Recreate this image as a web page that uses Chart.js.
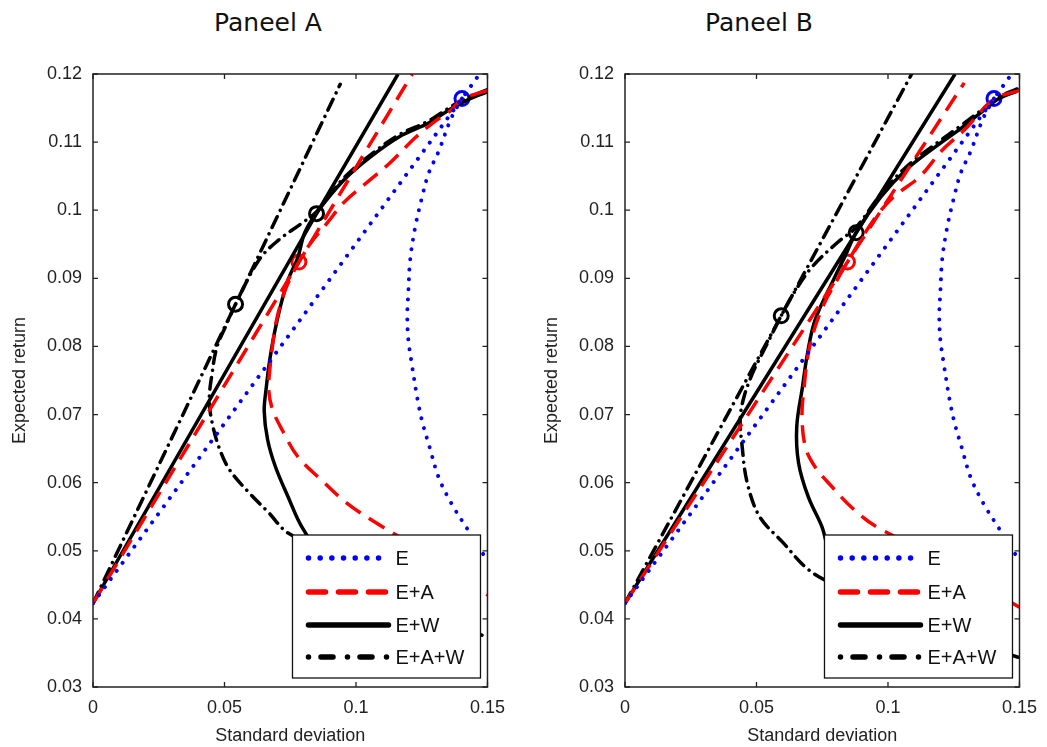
<!DOCTYPE html>
<html>
<head>
<meta charset="utf-8">
<script src="https://cdn.jsdelivr.net/npm/chart.js@4.4.1/dist/chart.umd.min.js"></script>
<style>
  html, body { margin: 0; padding: 0; background: #fff; overflow: hidden; }
  #wrap { position: relative; width: 1047px; height: 747px; }
  canvas { position: absolute; top: 0; }
  #chartA { left: 0; }
  #chartB { left: 532px; }
  .panelTitle {
    position: absolute; top: 7px; width: 240px; text-align: center;
    font-family: "DejaVu Sans", sans-serif; font-size: 25px; line-height: 32px; color: #111;
  }
</style>
</head>
<body>
<div id="wrap">
  <div class="panelTitle" style="left:148px">Paneel A</div>
  <div class="panelTitle" style="left:639px">Paneel B</div>
  <canvas id="chartA" width="515" height="747"></canvas>
  <canvas id="chartB" width="515" height="747"></canvas>
</div>
<script>
// Tick labels and series names
const xTickLabels = ["0", "0.05", "0.1", "0.15"];
const yTickLabels = ["0.03", "0.04", "0.05", "0.06", "0.07", "0.08", "0.09", "0.1", "0.11", "0.12"];
const seriesNames = ["E", "E+A", "E+W", "E+A+W"];

// [standard deviation, expected return] pairs
// E frontier and its tangent line look the same in both panels
const frontE = [[0.1403,0.1164],[0.1362,0.1135],[0.1314,0.1086],[0.1277,0.1055],[0.1251,0.1019],[0.1225,0.0975],
  [0.1206,0.0927],[0.1199,0.0879],[0.1195,0.0846],[0.1199,0.0810],[0.1212,0.0775],[0.1235,0.0720],[0.1255,0.0685],
  [0.1280,0.0652],[0.1314,0.0608],[0.1362,0.0570],[0.1425,0.0531],[0.1473,0.0501],[0.1500,0.0487]];
const tangentE = [[0,0.0423],[0.1403,0.1164],[0.1470,0.1200]];

// Panel A
const frontA_EA = [[0.1500,0.1176],[0.1403,0.1163],[0.1362,0.1147],[0.1299,0.1130],[0.1224,0.1106],[0.1128,0.1069],
  [0.1039,0.1040],[0.0953,0.1011],[0.0890,0.0981],[0.0830,0.0953],[0.0783,0.0924],[0.0731,0.0883],[0.0698,0.0839],
  [0.0683,0.0802],[0.0672,0.0765],[0.0668,0.0736],[0.0683,0.0707],[0.0720,0.0677],[0.0779,0.0638],[0.0868,0.0604],
  [0.0965,0.0570],[0.1076,0.0541],[0.1202,0.0512],[0.1325,0.0484],[0.1417,0.0457],[0.1500,0.0435]];
const tangentA_EA = [[0,0.0423],[0.0783,0.0924],[0.1214,0.1200]];
const frontA_EW = [[0.1500,0.1174],[0.1425,0.1162],[0.1373,0.1152],[0.1276,0.1128],[0.1165,0.1108],[0.1054,0.1078],
  [0.0953,0.1044],[0.0850,0.0996],[0.0805,0.0967],[0.0779,0.0931],[0.0742,0.0898],[0.0712,0.0858],[0.0690,0.0820],
  [0.0672,0.0780],[0.0659,0.0740],[0.0651,0.0705],[0.0664,0.0663],[0.0694,0.0623],[0.0742,0.0579],[0.0794,0.0535],
  [0.0879,0.0487],[0.0991,0.0435],[0.1121,0.0384],[0.1250,0.0340]];
const tangentA_EW = [[0,0.0423],[0.0850,0.0995],[0.1160,0.1200]];
const frontA_EAW = [[0.1500,0.1177],[0.1425,0.1165],[0.1373,0.1155],[0.1276,0.1131],[0.1165,0.1111],[0.1054,0.1081],
  [0.0953,0.1047],[0.0850,0.0998],[0.0794,0.0981],[0.0705,0.0956],[0.0631,0.0927],[0.0542,0.0862],[0.0505,0.0830],
  [0.0471,0.0799],[0.0453,0.0761],[0.0442,0.0721],[0.0453,0.0688],[0.0479,0.0652],[0.0519,0.0619],[0.0594,0.0585],
  [0.0668,0.0556],[0.0742,0.0526],[0.0953,0.0487],[0.1139,0.0443],[0.1325,0.0406],[0.1500,0.0372]];
const tangentA_EAW = [[0,0.0423],[0.0542,0.0862],[0.0940,0.1185]];
const pointsA = [[0.1403,0.1164],[0.0783,0.0924],[0.0850,0.0995],[0.0542,0.0862]];

// Panel B
const frontB_EA = [[0.1500,0.1176],[0.1403,0.1163],[0.1291,0.1118],[0.1206,0.1088],[0.1120,0.1049],[0.1020,0.1019],
  [0.0946,0.0986],[0.0846,0.0924],[0.0800,0.0893],[0.0761,0.0866],[0.0723,0.0829],[0.0697,0.0790],[0.0681,0.0740],
  [0.0673,0.0699],[0.0686,0.0652],[0.0723,0.0623],[0.0787,0.0594],[0.0861,0.0564],[0.0957,0.0535],[0.1206,0.0487],
  [0.1354,0.0450],[0.1500,0.0417]];
const tangentB_EA = [[0,0.0423],[0.0846,0.0924],[0.1290,0.1187]];
const frontB_EW = [[0.1491,0.1175],[0.1417,0.1163],[0.1365,0.1147],[0.1280,0.1121],[0.1180,0.1093],[0.1068,0.1059],
  [0.0972,0.1019],[0.0879,0.0967],[0.0835,0.0931],[0.0798,0.0902],[0.0723,0.0839],[0.0694,0.0790],[0.0675,0.0741],
  [0.0653,0.0682],[0.0660,0.0629],[0.0697,0.0579],[0.0749,0.0535],[0.0779,0.0497],[0.0872,0.0442],[0.1020,0.0384],
  [0.1243,0.0325]];
const tangentB_EW = [[0,0.0423],[0.0879,0.0967],[0.1255,0.1200]];
const frontB_EAW = [[0.1491,0.1178],[0.1417,0.1166],[0.1365,0.1150],[0.1280,0.1125],[0.1180,0.1097],[0.1068,0.1063],
  [0.0972,0.1023],[0.0879,0.0975],[0.0809,0.0953],[0.0712,0.0917],[0.0638,0.0876],[0.0594,0.0845],[0.0538,0.0802],
  [0.0482,0.0758],[0.0449,0.0721],[0.0438,0.0692],[0.0445,0.0655],[0.0464,0.0601],[0.0512,0.0550],[0.0601,0.0512],
  [0.0686,0.0476],[0.0761,0.0457],[0.1020,0.0413],[0.1243,0.0376],[0.1500,0.0343]];
const tangentB_EAW = [[0,0.0423],[0.0594,0.0845],[0.1090,0.1200]];
const pointsB = [[0.1403,0.1164],[0.0846,0.0924],[0.0879,0.0967],[0.0594,0.0845]];

// Styles
const lineStyles = [
  { color: "#0000ff", width: 4, dash: [0.01, 10], cap: "round" },
  { color: "#ff0000", width: 3.5, dash: [18, 10], cap: "butt" },
  { color: "#000000", width: 3.5, dash: [], cap: "butt" },
  { color: "#000000", width: 3.5, dash: [12, 7, 0.01, 7], cap: "round" }
];
const legendStyles = [
  { width: 5.5, dash: [0.01, 11.67] },
  { width: 5.5, dash: [17, 13] },
  { width: 5.5, dash: [] },
  { width: 5.5, dash: [0.01, 12.5, 12, 14.5] }
];
const tickFont = { family: "'Liberation Sans', Arial, sans-serif", size: 18 };

// Frame, inward ticks and the boxed legend (matlab look)
const framePlugin = {
  id: "panelFrame",
  afterDatasetsDraw(chart) {
    const { ctx, chartArea: a, scales: { x, y } } = chart;
    ctx.save();

    // legend box in the lower right corner
    const bw = 188, bh = 143;
    const bx = a.right - 7 - bw, by = a.bottom - 9 - bh;
    ctx.fillStyle = "#fff";
    ctx.fillRect(bx, by, bw, bh);
    ctx.strokeStyle = "#111";
    ctx.lineWidth = 1.3;
    ctx.setLineDash([]);
    ctx.strokeRect(bx, by, bw, bh);
    const rows = [23, 57, 90, 122];
    seriesNames.forEach((name, i) => {
      const ly = by + rows[i];
      ctx.beginPath();
      ctx.strokeStyle = lineStyles[i].color;
      ctx.lineWidth = legendStyles[i].width;
      ctx.lineCap = "round";
      ctx.setLineDash(legendStyles[i].dash);
      ctx.moveTo(bx + 16, ly);
      ctx.lineTo(bx + 96, ly);
      ctx.stroke();
      ctx.setLineDash([]);
      ctx.fillStyle = "#111";
      ctx.font = "20px 'Liberation Sans', Arial, sans-serif";
      ctx.textBaseline = "middle";
      ctx.textAlign = "left";
      ctx.fillText(name, bx + 103, ly + 1);
    });

    // plot frame
    ctx.lineCap = "butt";
    ctx.strokeStyle = "#222";
    ctx.lineWidth = 1.5;
    ctx.strokeRect(a.left, a.top, a.right - a.left, a.bottom - a.top);

    // inward ticks
    ctx.lineWidth = 1.3;
    ctx.beginPath();
    x.ticks.forEach(t => {
      const px = x.getPixelForValue(t.value);
      ctx.moveTo(px, a.bottom); ctx.lineTo(px, a.bottom - 5);
      ctx.moveTo(px, a.top); ctx.lineTo(px, a.top + 5);
    });
    y.ticks.forEach(t => {
      const py = y.getPixelForValue(t.value);
      ctx.moveTo(a.left, py); ctx.lineTo(a.left + 5, py);
      ctx.moveTo(a.right, py); ctx.lineTo(a.right - 5, py);
    });
    ctx.stroke();
    ctx.restore();
  }
};

function toXY(pts) {
  return pts.map(p => ({ x: p[0], y: p[1] }));
}

function makeChart(id, curves, points) {
  const datasets = [];
  curves.forEach((c, i) => {
    const st = lineStyles[i];
    [c.front, c.tangent].forEach((pts, k) => {
      datasets.push({
        label: seriesNames[i],
        data: toXY(pts),
        borderColor: st.color,
        borderWidth: st.width,
        borderDash: st.dash,
        borderCapStyle: st.cap,
        borderJoinStyle: "round",
        tension: k === 0 ? 0.35 : 0,
        pointRadius: 0,
        fill: false
      });
    });
  });
  datasets.push({
    label: "tangency",
    data: toXY(points),
    showLine: false,
    pointStyle: "circle",
    pointRadius: 7,
    pointBorderWidth: 3,
    pointBorderColor: lineStyles.map(s => s.color),
    pointBackgroundColor: "rgba(0,0,0,0)"
  });

  return new Chart(document.getElementById(id), {
    type: "line",
    data: { datasets },
    options: {
      responsive: false,
      animation: false,
      events: [],
      layout: { padding: { left: 0, top: 74, right: 18, bottom: 0 } },
      plugins: { legend: { display: false }, tooltip: { enabled: false } },
      scales: {
        x: {
          type: "linear", min: 0, max: 0.15,
          grid: { display: false, drawTicks: false },
          border: { display: false },
          ticks: {
            stepSize: 0.05, padding: 10, color: "#222", font: tickFont,
            maxRotation: 0, autoSkip: false,
            callback: (v, i) => xTickLabels[i]
          },
          title: {
            display: true, text: "Standard deviation", color: "#222",
            font: { family: tickFont.family, size: 18 }, padding: { top: 0, bottom: 0 }
          },
          afterFit: s => { s.height = 60; }
        },
        y: {
          type: "linear", min: 0.03, max: 0.12,
          grid: { display: false, drawTicks: false },
          border: { display: false },
          ticks: {
            stepSize: 0.01, padding: 11, color: "#222", font: tickFont, autoSkip: false,
            callback: (v, i) => yTickLabels[i]
          },
          title: {
            display: true, text: "Expected return", color: "#222",
            font: { family: tickFont.family, size: 18 }, padding: { top: 9, bottom: 0 }
          },
          afterFit: s => { s.width = 93; }
        }
      }
    },
    plugins: [framePlugin]
  });
}

makeChart("chartA", [
  { front: frontE, tangent: tangentE },
  { front: frontA_EA, tangent: tangentA_EA },
  { front: frontA_EW, tangent: tangentA_EW },
  { front: frontA_EAW, tangent: tangentA_EAW }
], pointsA);

makeChart("chartB", [
  { front: frontE, tangent: tangentE },
  { front: frontB_EA, tangent: tangentB_EA },
  { front: frontB_EW, tangent: tangentB_EW },
  { front: frontB_EAW, tangent: tangentB_EAW }
], pointsB);
</script>
</body>
</html>
